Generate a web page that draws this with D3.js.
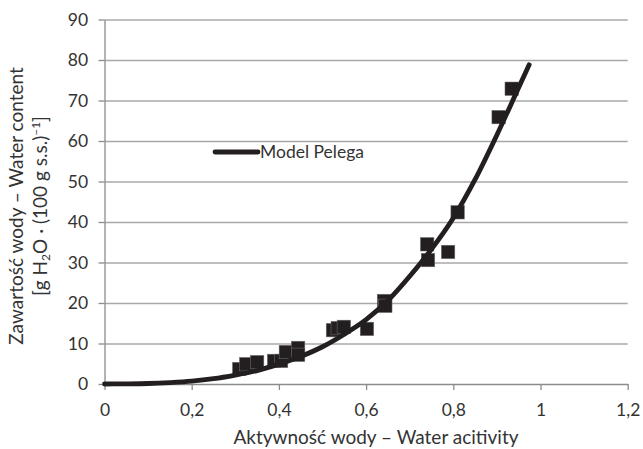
<!DOCTYPE html>
<html><head><meta charset="utf-8">
<script src="https://cdn.jsdelivr.net/npm/d3@7"></script>
<style>body{margin:0;background:#fff}svg{display:block}</style>
</head><body>
<svg id="c" width="643" height="449"></svg>
<script>
// measured data points: water activity / water content
const awData = [0.309,0.325,0.35,0.389,0.405,0.416,0.444,0.444,0.524,0.535,0.549,0.602,0.641,0.644,0.74,0.742,0.788,0.81,0.904,0.934];
const wcData = [3.7,4.9,5.4,5.7,5.7,7.9,8.9,7.2,13.3,13.8,14.1,13.6,20.5,19.3,34.5,30.6,32.6,42.4,65.9,72.9];
// Peleg model curve
const modelAw = [0,0.05,0.1,0.15,0.2,0.25,0.3,0.35,0.4,0.45,0.5,0.55,0.6,0.65,0.7,0.75,0.8,0.85,0.9,0.95,0.974];
const modelWc = [0,0.03,0.12,0.35,0.7,1.3,2.2,3.3,4.9,6.8,9.2,12.3,15.9,20.6,26.6,33.3,41.0,50.5,61.5,73.2,78.8];
const xTicks = [0,0.2,0.4,0.6,0.8,1,1.2];
const yTicks = [0,10,20,30,40,50,60,70,80,90];
const legendLabel = "Model Pelega";
const xTitle = "Aktywność wody – Water acitivity";

const svg = d3.select("#c");
const font = "Lato, 'Open Sans', sans-serif";
const textCol = "#333";
const x = d3.scaleLinear().domain([0,1.2]).range([104.5,627.7]);
const y = d3.scaleLinear().domain([0,90]).range([384,19.5]);

// gridlines
svg.append("g").selectAll("line").data(yTicks.filter(d=>d>0)).join("line")
  .attr("x1",x(0)).attr("x2",x(1.2)).attr("y1",d=>y(d)+0.5).attr("y2",d=>y(d)+0.5)
  .attr("stroke","#a8a8a8").attr("stroke-width",1.3);

// axes
const fmt = d => String(d).replace(".", ",");
const xAxis = svg.append("g").attr("transform",`translate(0,${y(0)})`)
  .call(d3.axisBottom(x).tickValues(xTicks).tickFormat(fmt).tickSize(6).tickSizeOuter(0));
const yAxis = svg.append("g").attr("transform",`translate(${x(0)},0)`)
  .call(d3.axisLeft(y).tickValues(yTicks).tickSize(6).tickSizeOuter(0));
[xAxis,yAxis].forEach(a=>{
  a.selectAll("path,line").attr("stroke","#8c8c8c").attr("stroke-width",1.3);
  a.selectAll("text").attr("font-family",font).attr("font-size",17.5).attr("fill",textCol);
});
xAxis.selectAll("text").attr("dy","1.3em");
yAxis.selectAll("text").attr("dx","-0.42em");

// points
const pts = awData.map((a,i)=>({a, w:wcData[i]}));
const s = 13.5;
svg.append("g").selectAll("rect").data(pts).join("rect")
  .attr("x",d=>x(d.a)-s/2).attr("y",d=>y(d.w)-s/2).attr("width",s).attr("height",s)
  .attr("fill","#231f20").attr("stroke","#777").attr("stroke-width",0.5);

// model line
const model = modelAw.map((a,i)=>({a, w:modelWc[i]}));
svg.append("path").datum(model)
  .attr("d", d3.line().x(d=>x(d.a)).y(d=>y(d.w)).curve(d3.curveMonotoneX))
  .attr("fill","none").attr("stroke","#231f20").attr("stroke-width",4.8).attr("stroke-linecap","round");

// legend
svg.append("line").attr("x1",215).attr("x2",258).attr("y1",152).attr("y2",152)
  .attr("stroke","#231f20").attr("stroke-width",4.8).attr("stroke-linecap","round");
svg.append("text").attr("x",260).attr("y",158).text(legendLabel)
  .attr("font-family",font).attr("font-size",17.5).attr("fill",textCol);

// axis titles
svg.append("text").attr("x",376).attr("y",444).attr("text-anchor","middle").text(xTitle)
  .attr("font-family",font).attr("font-size",19).attr("fill",textCol);
const yt = svg.append("g").attr("transform","translate(0,206) rotate(-90)")
  .attr("font-family",font).attr("font-size",19).attr("fill",textCol).attr("text-anchor","middle");
yt.append("text").attr("x",0).attr("y",23).text("Zawartość wody – Water content");
const t2 = yt.append("text").attr("x",0).attr("y",47);
t2.append("tspan").text("[g H");
t2.append("tspan").text("2").attr("font-size",12).attr("dy",3);
t2.append("tspan").text("O · (100 g s.s.)").attr("dy",-3);
t2.append("tspan").text("–1").attr("font-size",12).attr("dy",-7);
t2.append("tspan").text("]").attr("font-size",19).attr("dy",7);
</script>
</body></html>
